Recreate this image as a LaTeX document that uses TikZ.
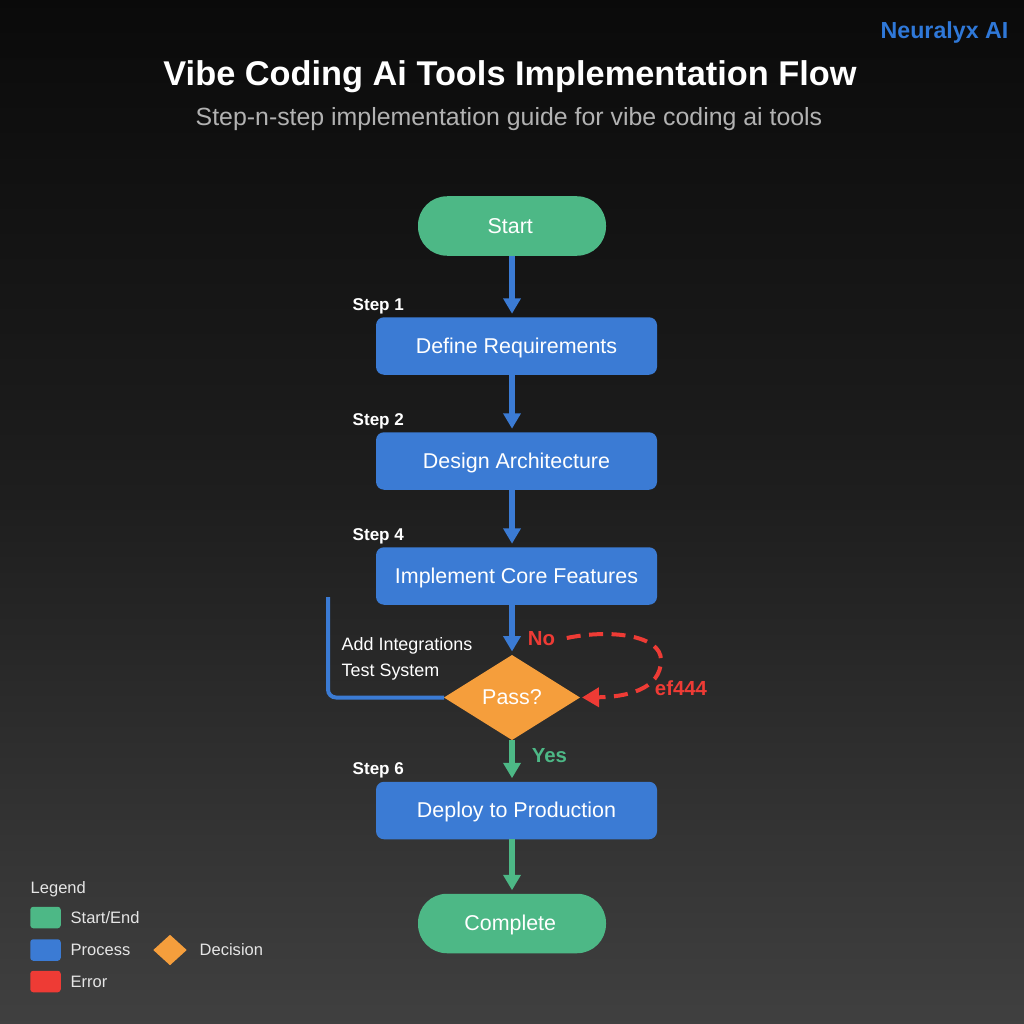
\documentclass[tikz,border=0pt]{standalone}
\usepackage{fontspec}
\setmainfont{Liberation Sans}
\usetikzlibrary{arrows.meta}
\usetikzlibrary{positioning}
\usetikzlibrary{shapes.geometric}

\definecolor{startgreen}{HTML}{4DB886}
\definecolor{processblue}{HTML}{3B7BD4}
\definecolor{decisionorange}{HTML}{F59E3C}
\definecolor{errorred}{HTML}{EE3B35}
\definecolor{brandblue}{HTML}{2F78D8}

\tikzset{
  boxtext/.style={inner sep=0pt,outer sep=0pt,text=white,text height=4.4pt,text depth=.4pt,font=\fontsize{6.1pt}{7pt}\selectfont},
  terminal/.style={boxtext,fill=startgreen,rounded corners=2.9mm,minimum width=18.8mm,minimum height=5.95mm,execute at begin node=\hspace*{-1pt}},
  process/.style={boxtext,fill=processblue,rounded corners=.8mm,minimum width=28.1mm,minimum height=5.75mm},
  decision/.style={boxtext,diamond,fill=decisionorange,aspect=1.6,minimum width=13.6mm,minimum height=8.5mm},
  steplabel/.style={text=white,inner sep=0pt,anchor=west,text height=3.4pt,text depth=0pt,font=\bfseries\fontsize{4.85pt}{6pt}\selectfont},
  flow/.style={line width=.6mm,-{Triangle[width=1.7mm,length=1.55mm]},shorten >=.35mm},
  sidetext/.style={text=white,inner sep=0pt,anchor=west,text height=3.7pt,text depth=0pt,font=\fontsize{5.1pt}{6pt}\selectfont},
  branchlabel/.style={inner sep=0pt,text height=4.2pt,text depth=0pt,font=\bfseries\fontsize{5.8pt}{7pt}\selectfont},
  legendtext/.style={text=black!10,inner sep=0pt,anchor=west,text height=3.4pt,text depth=0pt,font=\fontsize{4.7pt}{6pt}\selectfont},
  swatch/.style={minimum width=3.05mm,minimum height=2.15mm,inner sep=0pt,rounded corners=.3mm},
}

\begin{document}
\begin{tikzpicture}[x=.1mm,y=-.1mm]
  \useasboundingbox (0,0) rectangle (1024,1024);
  \shade[top color=black!96,bottom color=black!75,middle color=black!88] (0,0) rectangle (1024,1024);

  %header
  \node[anchor=east,inner sep=0pt,text=brandblue,text height=4.7pt,text depth=0pt,font=\bfseries\fontsize{6.6pt}{8pt}\selectfont] (brand) at (1009,30) {Neuralyx AI};
  \node[text=white,inner sep=0pt,text height=7.2pt,text depth=2.1pt,font=\bfseries\fontsize{9.77pt}{12pt}\selectfont] (title) at (510,77) {Vibe Coding Ai Tools Implementation Flow};
  \node[text=black!30,inner sep=0pt,text height=5.2pt,text depth=1.5pt,font=\fontsize{7.08pt}{9pt}\selectfont] (subtitle) at (509,119) {Step-n-step implementation guide for vibe coding ai tools};

  %column
  \node[terminal] (start) at (512,226) {Start};
  \node[process] (define) at (516.5,346) {Define Requirements};
  \node[process,below=5.75mm of define] (design) {Design Architecture};
  \node[process,below=5.75mm of design] (implement) {Implement Core Features};
  \node[decision] (pass) at (512,697.5) {Pass?};
  \node[process] (deploy) at (516.5,810.5) {Deploy to Production};
  \node[terminal] (complete) at (512,923.5) {Complete};

  %steps
  \node[steplabel] (step1) at (352,305) {Step 1};
  \node[steplabel] (step2) at (352,420) {Step 2};
  \node[steplabel] (step4) at (352,535) {Step 4};
  \node[steplabel] (step6) at (352,769) {Step 6};

  %arrows
  \draw[flow,processblue] (start) -- (start |- define.north);
  \draw[flow,processblue] (start |- define.south) -- (start |- design.north);
  \draw[flow,processblue] (start |- design.south) -- (start |- implement.north);
  \draw[flow,processblue] (start |- implement.south) -- (pass.north);
  \draw[flow,startgreen] (pass.south) -- (start |- deploy.north);
  \draw[flow,startgreen] (start |- deploy.south) -- (complete.north);

  %left branch
  \coordinate (branchend) at (328,597);
  \draw[processblue,line width=.4mm,rounded corners=.8mm] (branchend) |- (pass.west);
  \node[sidetext] (integrations) at (341,644) {Add Integrations};
  \node[sidetext] (testsystem) at (341,670) {Test System};

  %right
  \node[branchlabel,text=errorred] (nolabel) at (541.5,638) {No};
  \draw[errorred,line width=.4mm,dash pattern=on 1.4mm off .85mm,-{Triangle[width=1.9mm,length=1.7mm]},shorten >=.2mm]
    (nolabel.east) ++(1.1mm,0) .. controls (610,629) and (661,635) .. (661,660) .. controls (661,690) and (625,697) .. (pass.east);
  \node[branchlabel,text=errorred] (errorcode) at (681,688) {ef444};
  \node[branchlabel,text=startgreen] (yeslabel) at (549.5,755) {Yes};

  %legend
  \node[legendtext] (legend) at (30,888) {Legend};
  \node[swatch,fill=startgreen] (swatchgreen) at (45.5,917.5) {};
  \node[swatch,fill=processblue] (swatchblue) at (45.5,950) {};
  \node[swatch,fill=errorred] (swatchred) at (45.5,981.5) {};
  \node[legendtext] (startend) at (70,918) {Start/End};
  \node[legendtext] (processtext) at (70,950) {Process};
  \node[legendtext] (errortext) at (70,982) {Error};
  \node[diamond,fill=decisionorange,minimum width=3.4mm,minimum height=3.1mm,inner sep=0pt] (swatchorange) at (170,950) {};
  \node[legendtext] (decisiontext) at (199,950) {Decision};
\end{tikzpicture}
\end{document}
